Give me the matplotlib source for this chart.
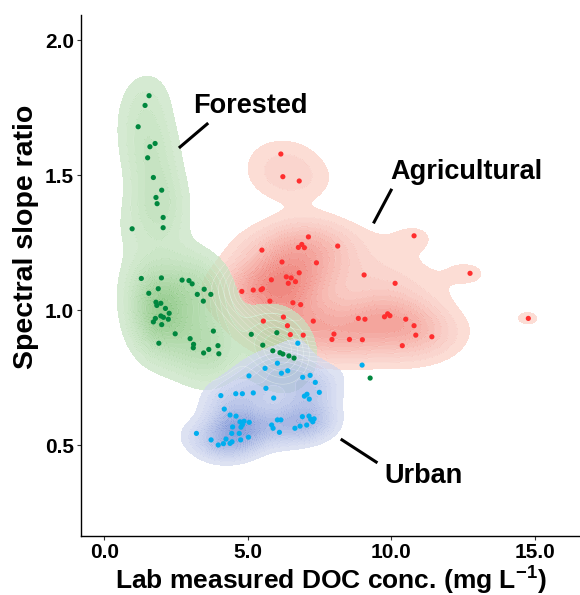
import numpy as np
import matplotlib
matplotlib.use("Agg")
import matplotlib.pyplot as plt
from matplotlib.colors import to_rgb

# data
forested_x = [1.56, 1.42, 1.18, 1.77, 1.59, 1.51, 1.71, 2.00, 1.80, 1.84, 2.05, 0.97, 2.05,
              1.29, 1.99, 2.71, 2.95, 3.06, 1.55, 1.88, 1.80, 1.97, 1.83, 2.13, 2.26, 1.97,
              2.06, 1.78, 2.23, 1.71, 2.00, 3.24, 3.48, 3.71, 3.45, 3.80, 2.47, 2.99, 1.90,
              3.11, 3.10, 3.96, 3.64, 3.46, 3.99, 5.12, 5.52, 6.01, 5.87, 6.12, 6.22, 6.43,
              6.61, 9.26]
forested_y = [1.794, 1.758, 1.679, 1.617, 1.605, 1.564, 1.491, 1.444, 1.417, 1.394, 1.343,
              1.301, 1.305, 1.117, 1.119, 1.111, 1.109, 1.097, 1.062, 1.079, 1.029, 1.025,
              1.017, 1.006, 0.988, 0.978, 0.973, 0.969, 0.966, 0.956, 0.946, 1.058, 1.077,
              1.058, 1.033, 0.922, 0.912, 0.894, 0.877, 0.873, 0.860, 0.868, 0.854, 0.841,
              0.838, 0.910, 0.870, 0.916, 0.849, 0.842, 0.837, 0.830, 0.822, 0.748]

agri_x = [6.15, 6.22, 6.79, 7.11, 6.76, 6.88, 6.97, 5.49, 8.13, 6.19, 7.39, 6.79, 6.34, 6.51,
          6.66, 6.41, 5.82, 5.51, 5.46, 5.19, 4.79, 5.77, 6.57, 6.84, 6.24, 5.54, 7.28, 6.38,
          6.48, 6.93, 8.00, 7.93, 8.54, 8.85, 10.79, 12.74, 9.05, 10.13, 14.77, 9.08, 9.76,
          9.87, 9.95, 10.50, 10.79, 10.85, 11.41, 8.99, 10.38]
agri_y = [1.578, 1.494, 1.478, 1.271, 1.232, 1.243, 1.231, 1.222, 1.237, 1.178, 1.175, 1.138,
          1.123, 1.119, 1.105, 1.099, 1.112, 1.079, 1.075, 1.074, 1.069, 1.033, 1.027, 1.020,
          0.974, 0.959, 0.959, 0.942, 0.909, 0.907, 0.911, 0.891, 0.891, 0.969, 1.275, 1.136,
          1.130, 1.099, 0.969, 0.966, 0.975, 0.986, 0.979, 0.966, 0.942, 0.907, 0.901, 0.890,
          0.868]

urban_x = [6.74, 6.03, 5.60, 5.04, 6.39, 6.17, 7.17, 6.91, 7.35, 5.63, 5.19, 4.81, 4.58, 4.06,
           7.49, 7.06, 6.97, 7.14, 5.90, 4.18, 4.38, 4.59, 4.73, 4.87, 5.05, 4.81, 4.76, 4.47,
           4.44, 4.70, 5.02, 4.75, 4.24, 4.45, 4.38, 4.15, 3.97, 3.72, 3.21, 5.83, 5.88, 6.03,
           6.15, 6.10, 6.90, 7.13, 7.19, 7.31, 7.26, 7.05, 6.82, 6.64, 8.98]
urban_y = [0.877, 0.803, 0.784, 0.756, 0.775, 0.766, 0.758, 0.751, 0.732, 0.710, 0.693, 0.690,
           0.690, 0.683, 0.695, 0.688, 0.681, 0.670, 0.674, 0.633, 0.611, 0.607, 0.586, 0.588,
           0.584, 0.575, 0.566, 0.567, 0.543, 0.543, 0.529, 0.519, 0.522, 0.512, 0.506, 0.505,
           0.500, 0.519, 0.543, 0.574, 0.562, 0.593, 0.593, 0.547, 0.605, 0.607, 0.595, 0.597,
           0.586, 0.574, 0.570, 0.562, 0.796]

groups = ["Agricultural", "Forested", "Urban"]
xs = {"Agricultural": agri_x, "Forested": forested_x, "Urban": urban_x}
ys = {"Agricultural": agri_y, "Forested": forested_y, "Urban": urban_y}
point_col = {"Agricultural": "#FF2E2E", "Forested": "#00873E", "Urban": "#00AEEF"}
fill_lo = {"Agricultural": "#FCDDD6", "Forested": "#D6EBD2", "Urban": "#DDE2F3"}
fill_hi = {"Agricultural": "#F08A82", "Forested": "#9ACE93", "Urban": "#8FA3DC"}

N_LEVELS = 13
FIRST_LEVEL = 0.09  # lowest contour, fraction of each group's peak density


def nrd(v):
    v = np.asarray(v)
    q1, q3 = np.percentile(v, [25, 75])
    s = min(np.std(v, ddof=1), (q3 - q1) / 1.34)
    return 1.06 * s * len(v) ** (-0.2)


def kde2d(x, y, gx, gy):
    x = np.asarray(x)
    y = np.asarray(y)
    hx, hy = nrd(x), nrd(y)
    kx = np.exp(-0.5 * ((gx[None, :] - x[:, None]) / hx) ** 2) / (hx * np.sqrt(2 * np.pi))
    ky = np.exp(-0.5 * ((gy[None, :] - y[:, None]) / hy) ** 2) / (hy * np.sqrt(2 * np.pi))
    return (ky.T @ kx) / len(x)


def blend(c1, c2, t):
    a, b = np.array(to_rgb(c1)), np.array(to_rgb(c2))
    return tuple(a + (b - a) * t)


def base_for(c, alpha):
    # colour that gives c over white at this alpha
    return tuple(np.clip(1 - (1 - np.array(c)) / alpha, 0, 1))


gx = np.linspace(-0.8, 16.5, 450)
gy = np.linspace(0.17, 2.09, 450)
X, Y = np.meshgrid(gx, gy)

plt.rcParams["font.family"] = ["Liberation Sans", "DejaVu Sans"]
plt.rcParams["mathtext.fontset"] = "custom"
plt.rcParams["mathtext.bf"] = "Liberation Sans:bold"
plt.rcParams["mathtext.rm"] = "Liberation Sans"
fig = plt.figure(figsize=(5.8, 5.95), dpi=100)
ax = fig.add_axes([0.1397, 0.0992, 0.8603, 0.8756])

alpha = 0.72
levs = list(FIRST_LEVEL + np.arange(N_LEVELS) * (1 - FIRST_LEVEL) / N_LEVELS)
k = len(levs)
for g in groups:
    z = kde2d(xs[g], ys[g], gx, gy)
    z = z / z.max()
    cols = [base_for(blend(fill_lo[g], fill_hi[g], i / (k - 1)), alpha) for i in range(k)]
    ax.contourf(X, Y, z, levels=levs + [1.01], colors=cols, alpha=alpha, zorder=1)
    ax.contour(X, Y, z, levels=levs[1:], colors="white", linewidths=0.4, alpha=0.5, zorder=2)

for g in groups:
    ax.scatter(xs[g], ys[g], s=14, color=point_col[g], edgecolors="none", zorder=3)

# labels with leader lines
ax.text(5.08, 1.756, "Forested", fontsize=19.5, fontweight="bold", ha="center", va="center")
ax.plot([3.58, 2.64], [1.689, 1.604], color="black", lw=2.2)
ax.text(12.6, 1.511, "Agricultural", fontsize=19.5, fontweight="bold", ha="center", va="center")
ax.plot([9.99, 9.40], [1.444, 1.326], color="black", lw=2.2)
ax.text(11.11, 0.385, "Urban", fontsize=19.5, fontweight="bold", ha="center", va="center")
ax.plot([9.47, 8.28], [0.437, 0.519], color="black", lw=2.2)

ax.set_xlim(-0.81, 16.57)
ax.set_ylim(0.163, 2.093)
ax.set_xticks([0, 5, 10, 15])
ax.set_xticklabels(["0.0", "5.0", "10.0", "15.0"])
ax.set_yticks([0.5, 1.0, 1.5, 2.0])
ax.set_yticklabels(["0.5", "1.0", "1.5", "2.0"])
ax.tick_params(labelsize=15, length=3, width=0.8, color="#333333", pad=2)
for lab in ax.get_xticklabels() + ax.get_yticklabels():
    lab.set_fontweight("bold")
ax.spines["top"].set_visible(False)
ax.spines["right"].set_visible(False)
for s in ["left", "bottom"]:
    ax.spines[s].set_linewidth(1.0)
ax.set_xlabel(r"Lab measured DOC conc. (mg L$^{\mathbf{-1}}$)", fontsize=19, fontweight="bold", labelpad=1)
ax.set_ylabel("Spectral slope ratio", fontsize=20.5, fontweight="bold")
ax.yaxis.set_label_coords(-0.085, 0.575)

fig.savefig("out.png", dpi=100)
